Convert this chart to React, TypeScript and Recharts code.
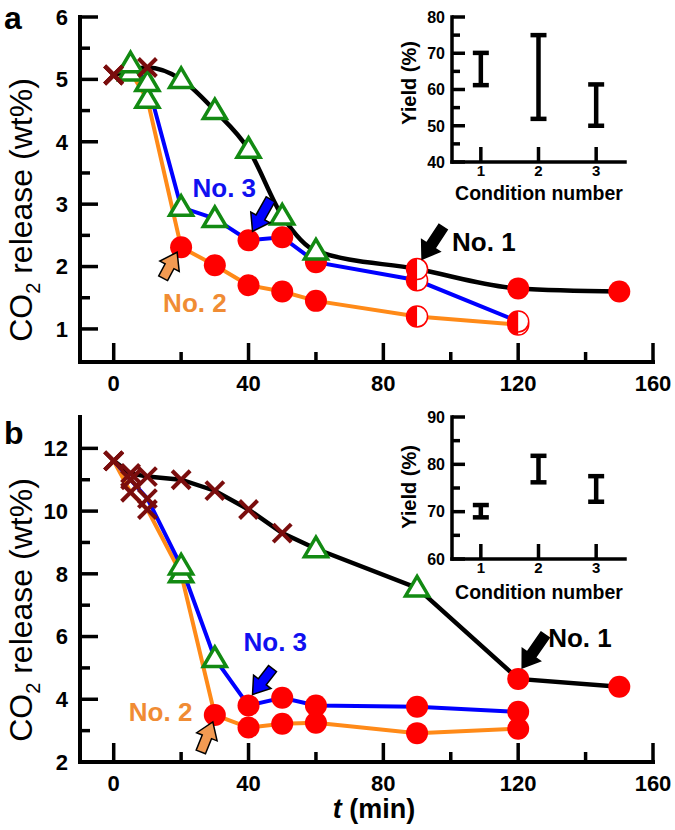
import React from "react";
import {
  ComposedChart,
  ScatterChart,
  Line,
  Scatter,
  XAxis,
  YAxis,
  ErrorBar,
  ReferenceDot,
} from "recharts";

const FONT = '"Liberation Sans", Arial, Helvetica, sans-serif';

type Kind = "x" | "tri" | "dot" | "half";

// ---- panel a: CO2 release (wt%) vs t (min)
const timeA1 = [0, 10, 20, 30, 40, 50, 60, 90, 120, 150];
const releaseA1 = [5.07, 5.19, 5.0, 4.5, 3.88, 2.81, 2.25, 1.96, 1.65, 1.6];
const markA1: Kind[] = ["x", "x", "tri", "tri", "tri", "tri", "tri", "half", "dot", "dot"];

const timeA2 = [0, 5, 10, 20, 30, 40, 50, 60, 90, 120];
const releaseA2 = [5.07, 5.12, 4.68, 2.31, 2.02, 1.7, 1.6, 1.45, 1.2, 1.07];
const markA2: Kind[] = ["x", "tri", "tri", "dot", "dot", "dot", "dot", "dot", "half", "half"];

const timeA3 = [0, 5, 10, 20, 30, 40, 50, 60, 90, 120];
const releaseA3 = [5.07, 5.25, 4.95, 2.95, 2.77, 2.42, 2.47, 2.07, 1.78, 1.12];
const markA3: Kind[] = ["x", "tri", "tri", "tri", "tri", "dot", "dot", "dot", "half", "half"];

// ---- panel b
const timeB1 = [0, 5, 10, 20, 30, 40, 50, 60, 90, 120, 150];
const releaseB1 = [11.6, 11.2, 11.1, 11.0, 10.65, 10.05, 9.3, 8.8, 7.55, 4.65, 4.4];
const markB1: Kind[] = ["x", "x", "x", "x", "x", "x", "x", "tri", "tri", "dot", "dot"];

const timeB2 = [0, 5, 10, 20, 30, 40, 50, 60, 90, 120];
const releaseB2 = [11.6, 10.6, 10.05, 8.0, 3.5, 3.1, 3.22, 3.25, 2.92, 3.06];
const markB2: Kind[] = ["x", "x", "x", "tri", "dot", "dot", "dot", "dot", "dot", "dot"];

const timeB3 = [0, 5, 10, 20, 30, 40, 50, 60, 90, 120];
const releaseB3 = [11.6, 11.0, 10.4, 8.25, 5.3, 3.8, 4.05, 3.8, 3.76, 3.6];
const markB3: Kind[] = ["x", "x", "x", "tri", "tri", "dot", "dot", "dot", "dot", "dot"];

const timeTicks = [0, 20, 40, 60, 80, 100, 120, 140, 160];
const releaseTicksA = [1, 1.5, 2, 2.5, 3, 3.5, 4, 4.5, 5, 5.5, 6];
const releaseTicksB = [2, 3, 4, 5, 6, 7, 8, 9, 10, 11, 12];

// ---- insets: yield (%) per condition number
const conditions = [1, 2, 3];
const yieldLowA = [61.2, 51.9, 50.0];
const yieldHighA = [70.1, 75.0, 61.4];
const yieldLowB = [68.8, 76.2, 72.1];
const yieldHighB = [71.4, 81.8, 77.5];
const yieldTicksA = [40, 45, 50, 55, 60, 65, 70, 75, 80];
const yieldTicksB = [60, 65, 70, 75, 80, 85, 90];

const RED = "#ff0000";
const GREEN = "#128a12";
const CROSS = "#7a0d0d";
const ORANGE = "#ff8a18";
const BLUE = "#0000ff";

const zip = (t: number[], v: number[], m: Kind[]) =>
  t.map((ti, i) => ({ t: ti, v: v[i], m: m[i] }));

const seriesA = [
  { name: "No. 2", color: ORANGE, width: 4, curve: "linear", data: zip(timeA2, releaseA2, markA2) },
  { name: "No. 3", color: BLUE, width: 4, curve: "linear", data: zip(timeA3, releaseA3, markA3) },
  { name: "No. 1", color: "#000", width: 4.5, curve: "monotone", data: zip(timeA1, releaseA1, markA1) },
];
const seriesB = [
  { name: "No. 2", color: ORANGE, width: 4, curve: "linear", data: zip(timeB2, releaseB2, markB2) },
  { name: "No. 3", color: BLUE, width: 4, curve: "linear", data: zip(timeB3, releaseB3, markB3) },
  { name: "No. 1", color: "#000", width: 4.5, curve: "linear", data: zip(timeB1, releaseB1, markB1) },
];

// callouts: anchored on a data point, offsets are drawing style only
const calloutsA = [
  { t: 90, v: 1.96, text: "No. 1", color: "#000", fill: "#000", tip: [5, -10], tail: [26, -42], label: [35, -27] },
  { t: 40, v: 2.42, text: "No. 3", color: "#1010f0", fill: BLUE, tip: [4, -9], tail: [22, -41], label: [-56, -53] },
  { t: 20, v: 2.31, text: "No. 2", color: "#f08c34", fill: "#f29a52", tip: [-4, 5], tail: [-18, 31], label: [-18, 55] },
];
const calloutsB = [
  { t: 120, v: 4.65, text: "No. 1", color: "#000", fill: "#000", tip: [4, -11], tail: [27, -44], label: [30, -41] },
  { t: 40, v: 3.8, text: "No. 3", color: "#1010f0", fill: BLUE, tip: [4, -11], tail: [24, -37], label: [-5, -64] },
  { t: 30, v: 3.5, text: "No. 2", color: "#f08c34", fill: "#f29a52", tip: [-2, 7], tail: [-14, 37], label: [-86, -3] },
];

function Marker({ cx, cy, kind }: { cx: number; cy: number; kind: Kind }) {
  if (cx == null || cy == null) return null;
  if (kind === "x") {
    const s = 9;
    return (
      <g stroke={CROSS} strokeWidth={4}>
        <line x1={cx - s} y1={cy - s} x2={cx + s} y2={cy + s} />
        <line x1={cx - s} y1={cy + s} x2={cx + s} y2={cy - s} />
      </g>
    );
  }
  if (kind === "tri") {
    return (
      <polygon
        points={`${cx},${cy - 11.5} ${cx + 11.5},${cy + 8} ${cx - 11.5},${cy + 8}`}
        fill="#fff"
        stroke={GREEN}
        strokeWidth={3.5}
      />
    );
  }
  if (kind === "half") {
    const r = 10.5;
    return (
      <g>
        <circle cx={cx} cy={cy} r={r} fill="#fff" stroke={RED} strokeWidth={1.5} />
        <path d={`M${cx},${cy - r} A${r},${r} 0 0 0 ${cx},${cy + r} Z`} fill={RED} />
      </g>
    );
  }
  return <circle cx={cx} cy={cy} r={11} fill={RED} />;
}

function Callout({ cx, cy, c }: any) {
  if (cx == null || cy == null) return null;
  const tip = [cx + c.tip[0], cy + c.tip[1]];
  const tail = [cx + c.tail[0], cy + c.tail[1]];
  const dx = tip[0] - tail[0];
  const dy = tip[1] - tail[1];
  const len = Math.hypot(dx, dy);
  const ux = dx / len;
  const uy = dy / len;
  const nx = -uy;
  const ny = ux;
  const headL = 16;
  const hh = 11;
  const hw = 5;
  const bx = tip[0] - ux * headL;
  const by = tip[1] - uy * headL;
  const pts = [
    [tail[0] + nx * hw, tail[1] + ny * hw],
    [bx + nx * hw, by + ny * hw],
    [bx + nx * hh, by + ny * hh],
    tip,
    [bx - nx * hh, by - ny * hh],
    [bx - nx * hw, by - ny * hw],
    [tail[0] - nx * hw, tail[1] - ny * hw],
  ];
  return (
    <g>
      <polygon points={pts.map((p) => p.join(",")).join(" ")} fill={c.fill} stroke="#000" strokeWidth={1.5} />
      <text
        x={cx + c.label[0]}
        y={cy + c.label[1]}
        dy="0.36em"
        fill={c.color}
        fontSize={26}
        fontWeight="bold"
        fontFamily={FONT}
      >
        {c.text}
      </text>
    </g>
  );
}

const isStep = (v: number, step: number) => Math.abs(v / step - Math.round(v / step)) < 1e-6;

const makeXTick = (step: number, major: number, minor: number, size: number, dy: number) => (props: any) => {
  const { x, y, payload } = props;
  const v = payload.value;
  const big = isStep(v, step);
  return (
    <g>
      <line x1={x} x2={x} y1={y} y2={y - (big ? major : minor)} stroke="#000" strokeWidth={3.5} />
      {big && (
        <text x={x} y={y + dy} textAnchor="middle" fontSize={size} fontWeight="bold" fontFamily={FONT} fill="#000">
          {v}
        </text>
      )}
    </g>
  );
};

const makeYTick = (step: number, major: number, minor: number, size: number, gap: number) => (props: any) => {
  const { x, y, payload } = props;
  const v = payload.value;
  const big = isStep(v, step);
  return (
    <g>
      <line x1={x} x2={x + (big ? major : minor)} y1={y} y2={y} stroke="#000" strokeWidth={3.5} />
      {big && (
        <text x={x - gap} y={y} dy="0.36em" textAnchor="end" fontSize={size} fontWeight="bold" fontFamily={FONT} fill="#000">
          {v}
        </text>
      )}
    </g>
  );
};

const axisLine = { stroke: "#000", strokeWidth: 4, strokeLinecap: "square" as const };

function MainPanel({ top, marginTop, xHeight, yDomain, yTicks, yStep, series, callouts }: any) {
  return (
    <div style={{ position: "absolute", left: 0, top, width: 675, height: 415 }}>
      <ComposedChart width={675} height={415} margin={{ top: marginTop, right: 22, bottom: 0, left: 0 }}>
        <XAxis
          type="number"
          dataKey="t"
          domain={[-10, 160]}
          ticks={timeTicks}
          interval={0}
          height={xHeight}
          tickSize={0}
          tickMargin={0}
          tickLine={false}
          axisLine={axisLine}
          tick={makeXTick(40, 19, 10, 22, 29)}
        />
        <YAxis
          type="number"
          domain={yDomain}
          ticks={yTicks}
          interval={0}
          width={80}
          tickSize={0}
          tickMargin={0}
          tickLine={false}
          axisLine={axisLine}
          tick={makeYTick(yStep, 18, 10, 22, 12)}
        />
        {series.map((s: any) => (
          <Line
            key={"l" + s.name}
            data={s.data}
            dataKey="v"
            type={s.curve}
            stroke={s.color}
            strokeWidth={s.width}
            dot={false}
            activeDot={false}
            isAnimationActive={false}
          />
        ))}
        {series.map((s: any) => (
          <Line
            key={"m" + s.name}
            data={s.data}
            dataKey="v"
            stroke="none"
            strokeWidth={0}
            dot={(p: any) => <Marker key={p.index} cx={p.cx} cy={p.cy} kind={p.payload.m} />}
            activeDot={false}
            isAnimationActive={false}
          />
        ))}
        {callouts.map((c: any) => (
          <ReferenceDot
            key={c.text}
            x={c.t}
            y={c.v}
            r={0}
            ifOverflow="visible"
            shape={(p: any) => <Callout cx={p.cx} cy={p.cy} c={c} />}
          />
        ))}
      </ComposedChart>
    </div>
  );
}

function Inset({ top, xHeight, yDomain, yTicks, low, high }: any) {
  const data = conditions.map((c, i) => ({
    x: c,
    y: (low[i] + high[i]) / 2,
    err: (high[i] - low[i]) / 2,
  }));
  return (
    <div style={{ position: "absolute", left: 380, top, width: 260, height: 210 }}>
      <ScatterChart width={260} height={210} margin={{ top: 17, right: 15, bottom: 0, left: 0 }}>
        <XAxis
          type="number"
          dataKey="x"
          domain={[0.5, 3.5]}
          ticks={conditions}
          interval={0}
          height={xHeight}
          tickSize={0}
          tickMargin={0}
          tickLine={false}
          axisLine={{ stroke: "#000", strokeWidth: 3.5, strokeLinecap: "square" }}
          tick={makeXTick(1, 15, 15, 15, 14)}
        />
        <YAxis
          type="number"
          dataKey="y"
          domain={yDomain}
          ticks={yTicks}
          interval={0}
          width={72}
          tickSize={0}
          tickMargin={0}
          tickLine={false}
          axisLine={{ stroke: "#000", strokeWidth: 3.5, strokeLinecap: "square" }}
          tick={makeYTick(10, 13, 8, 16, 7)}
        />
        <Scatter data={data} dataKey="y" shape={() => <g />} isAnimationActive={false}>
          <ErrorBar dataKey="err" direction="y" width={8} strokeWidth={4.5} stroke="#000" />
        </Scatter>
      </ScatterChart>
    </div>
  );
}

export default function App() {
  return (
    <div
      style={{
        position: "absolute",
        left: 0,
        top: 0,
        width: 675,
        height: 830,
        background: "#fff",
        fontFamily: FONT,
      }}
    >
      <MainPanel
        top={0}
        marginTop={17}
        xHeight={53}
        yDomain={[0.47, 6]}
        yTicks={releaseTicksA}
        yStep={1}
        series={seriesA}
        callouts={calloutsA}
      />
      <MainPanel
        top={415}
        marginTop={2}
        xHeight={68}
        yDomain={[2, 13]}
        yTicks={releaseTicksB}
        yStep={2}
        series={seriesB}
        callouts={calloutsB}
      />
      <Inset top={0} xHeight={48} yDomain={[40, 80]} yTicks={yieldTicksA} low={yieldLowA} high={yieldHighA} />
      <Inset top={400} xHeight={51} yDomain={[60, 90]} yTicks={yieldTicksB} low={yieldLowB} high={yieldHighB} />
      <svg
        width={675}
        height={830}
        style={{ position: "absolute", left: 0, top: 0, pointerEvents: "none" }}
        fontFamily={FONT}
      >
        <text x={4} y={29} fontSize={32} fontWeight="bold">a</text>
        <text x={4} y={444} fontSize={32} fontWeight="bold">b</text>
        {[210, 610].map((cy) => (
          <text key={cy} x={32} y={cy} fontSize={32} textAnchor="middle" transform={`rotate(-90 32 ${cy})`}>
            CO
            <tspan fontSize={20} dy={8}>2</tspan>
            <tspan dy={-8}> release (wt%)</tspan>
          </text>
        ))}
        <text x={374} y={818} fontSize={27} fontWeight="bold" textAnchor="middle">
          <tspan fontStyle="italic">t</tspan> (min)
        </text>
        {[
          [83, 200],
          [487, 599],
        ].map(([yc, yb]) => (
          <g key={yc}>
            <text x={416} y={yc} fontSize={20} fontWeight="bold" textAnchor="middle" transform={`rotate(-90 416 ${yc})`}>
              Yield (%)
            </text>
            <text x={539} y={yb} fontSize={19.5} fontWeight="bold" textAnchor="middle">
              Condition number
            </text>
          </g>
        ))}
      </svg>
    </div>
  );
}
